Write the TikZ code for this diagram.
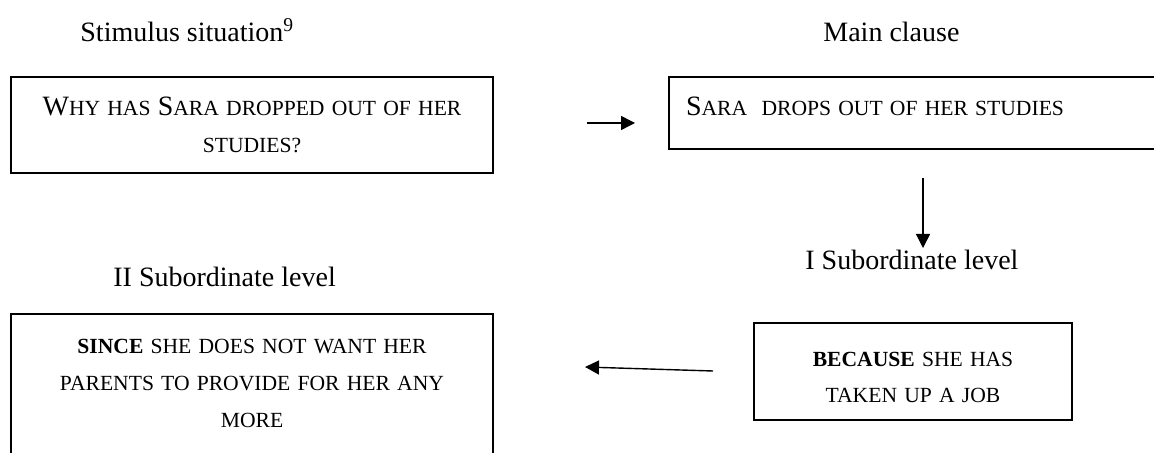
\documentclass[tikz,border=0pt]{standalone}
\usepackage{fontspec}
\setmainfont{Liberation Serif}
\usetikzlibrary{arrows.meta}

\newcommand{\initcap}[1]{{\fontsize{14}{18.5}\selectfont #1}}

\tikzset{
  clausebox/.style={draw,line width=1pt,anchor=north west,inner xsep=4pt,inner ysep=0,align=center,font=\fontsize{10.8}{18.3}\selectfont},
  levellabel/.style={anchor=base west,inner sep=0,font=\fontsize{14}{17}\selectfont},
  flow/.style={line width=0.7pt,-{Triangle[length=7pt,width=7pt]}}
}

\begin{document}
\begin{tikzpicture}[x=0.5pt,y=-0.5pt]
\useasboundingbox (0,0) rectangle (1154,453);
\clip (0,0) rectangle (1154,453);

\node[levellabel] (stimlabel) at (80,42) {Stimulus situation\textsuperscript{9}};
\node[levellabel] (mainlabel) at (823,42) {Main clause};
\node[levellabel] (subtwolabel) at (113,287) {II Subordinate level};
\node[levellabel] (subonelabel) at (805,270) {I Subordinate level};

\node[clausebox,minimum width=241pt,text width=230pt,text height=19.5pt,text depth=28.5pt] (why) at (10,76)
  {\initcap{W}HY HAS \initcap{S}ARA DROPPED OUT OF HER\\ STUDIES?};
\node[clausebox,align=left,inner xsep=8.5pt,minimum width=260pt,text width=243pt,text height=19.5pt,text depth=16.5pt] (drops) at (668,76)
  {\initcap{S}ARA\ \ DROPS OUT OF HER STUDIES};
\node[clausebox,minimum width=241pt,text width=230pt,text height=20pt,text depth=55pt] (since) at (10,313)
  {\textbf{SINCE} SHE DOES NOT WANT HER\\ PARENTS TO PROVIDE FOR HER ANY\\ MORE};
\node[clausebox,minimum width=159pt,text width=150pt,text height=21.5pt,text depth=27pt] (because) at (753,322)
  {\textbf{BECAUSE} SHE HAS\\ TAKEN UP A JOB};

\coordinate (whyout) at (587,123);
\coordinate (dropsin) at (635,123);
\coordinate (dropsout) at (923,178);
\coordinate (becausein) at (923,248);
\coordinate (becauseout) at (713,371);
\coordinate (sincein) at (585,367);

\draw[flow] (whyout) -- (dropsin);
\draw[flow] (dropsout) -- (becausein);
\draw[flow] (becauseout) -- (sincein);
\end{tikzpicture}
\end{document}
